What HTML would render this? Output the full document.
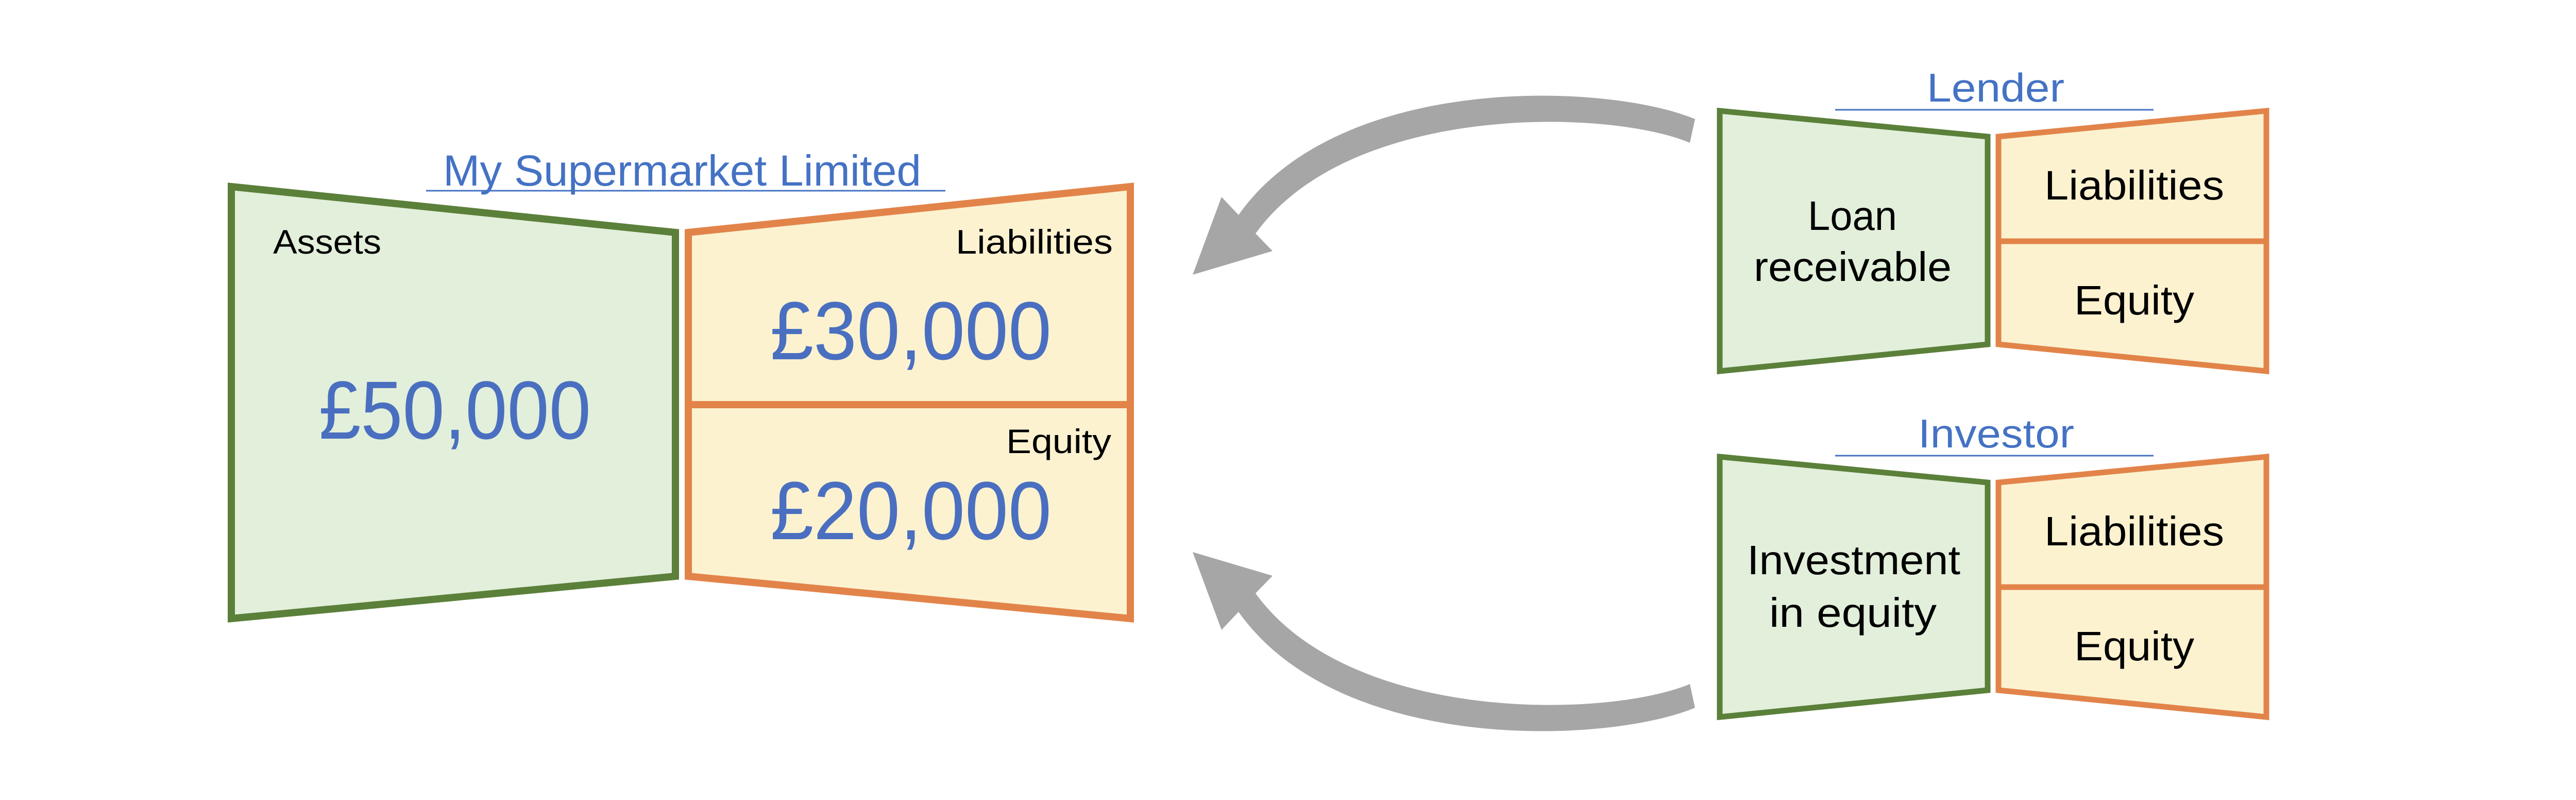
<!DOCTYPE html>
<html><head><meta charset="utf-8"><style>
html,body{margin:0;padding:0;background:#fff;}
svg{display:block;}
text{font-family:"Liberation Sans",sans-serif;}
</style></head><body>
<svg width="5014" height="1552" viewBox="0 0 5014 1552" xmlns="http://www.w3.org/2000/svg">
<rect width="5014" height="1552" fill="#fff"/>
<!-- Main entity -->
<polygon points="449,362 1311,451 1311,1118 449,1200" fill="#E2EFDA" stroke="#5B803A" stroke-width="14"/>
<polygon points="1336,451 2194,362 2194,1200 1336,1118" fill="#FCF2D0" stroke="#E2844A" stroke-width="14"/>
<line x1="1336" y1="785" x2="2194" y2="785" stroke="#E2844A" stroke-width="14"/>
<text x="860" y="360" font-size="84" fill="#4472C4" textLength="928" lengthAdjust="spacingAndGlyphs">My Supermarket Limited</text>
<line x1="827" y1="370" x2="1835" y2="370" stroke="#4472C4" stroke-width="3"/>
<text x="530" y="492" font-size="66" fill="#000" textLength="210" lengthAdjust="spacingAndGlyphs">Assets</text>
<text x="1855" y="492" font-size="66" fill="#000" textLength="305" lengthAdjust="spacingAndGlyphs">Liabilities</text>
<text x="1953" y="879" font-size="66" fill="#000" textLength="204" lengthAdjust="spacingAndGlyphs">Equity</text>
<text x="619" y="851" font-size="160" fill="#4A6FC0" textLength="528" lengthAdjust="spacingAndGlyphs">£50,000</text>
<text x="1495" y="697" font-size="160" fill="#4A6FC0" textLength="546" lengthAdjust="spacingAndGlyphs">£30,000</text>
<text x="1495" y="1046" font-size="160" fill="#4A6FC0" textLength="546" lengthAdjust="spacingAndGlyphs">£20,000</text>

<!-- Arrows -->
<path d="M3290,231 C3120,160 2600,140 2404,417 L2371,382 L2315,533 L2470,487 L2437,453 C2620,200 3120,210 3280,277 Z" fill="#A6A6A6"/>
<g transform="translate(0,1604) scale(1,-1)">
<path d="M3290,231 C3120,160 2600,140 2404,417 L2371,382 L2315,533 L2470,487 L2437,453 C2620,200 3120,210 3280,277 Z" fill="#A6A6A6"/>
</g>

<!-- Lender -->
<g transform="translate(-18,0)">
<polygon points="3356,215 3876,265 3876,668 3356,720" fill="#E2EFDA" stroke="#5B803A" stroke-width="11"/>
<polygon points="3897,265 4417,215 4417,720 3897,668" fill="#FCF2D0" stroke="#E2844A" stroke-width="11"/>
<line x1="3897" y1="468" x2="4417" y2="468" stroke="#E2844A" stroke-width="11"/>
<text x="3758" y="197" font-size="78" fill="#4472C4" textLength="267" lengthAdjust="spacingAndGlyphs">Lender</text>
<line x1="3580" y1="213" x2="4198" y2="213" stroke="#4472C4" stroke-width="3"/>
<text x="3527" y="446" font-size="80" fill="#000" textLength="173" lengthAdjust="spacingAndGlyphs">Loan</text>
<text x="3422" y="545" font-size="80" fill="#000" textLength="384" lengthAdjust="spacingAndGlyphs">receivable</text>
<text x="3986" y="387" font-size="80" fill="#000" textLength="349" lengthAdjust="spacingAndGlyphs">Liabilities</text>
<text x="4044" y="610" font-size="80" fill="#000" textLength="233" lengthAdjust="spacingAndGlyphs">Equity</text>
</g>
<!-- Investor -->
<g transform="translate(-18,671)">
<polygon points="3356,215 3876,265 3876,668 3356,720" fill="#E2EFDA" stroke="#5B803A" stroke-width="11"/>
<polygon points="3897,265 4417,215 4417,720 3897,668" fill="#FCF2D0" stroke="#E2844A" stroke-width="11"/>
<line x1="3897" y1="468" x2="4417" y2="468" stroke="#E2844A" stroke-width="11"/>
<text x="3741" y="197" font-size="78" fill="#4472C4" textLength="303" lengthAdjust="spacingAndGlyphs">Investor</text>
<line x1="3580" y1="213" x2="4198" y2="213" stroke="#4472C4" stroke-width="3"/>
<text x="3409" y="443" font-size="80" fill="#000" textLength="414" lengthAdjust="spacingAndGlyphs">Investment</text>
<text x="3452" y="545" font-size="80" fill="#000" textLength="325" lengthAdjust="spacingAndGlyphs">in equity</text>
<text x="3986" y="387" font-size="80" fill="#000" textLength="349" lengthAdjust="spacingAndGlyphs">Liabilities</text>
<text x="4044" y="610" font-size="80" fill="#000" textLength="233" lengthAdjust="spacingAndGlyphs">Equity</text>
</g>
</svg>
</body></html>
